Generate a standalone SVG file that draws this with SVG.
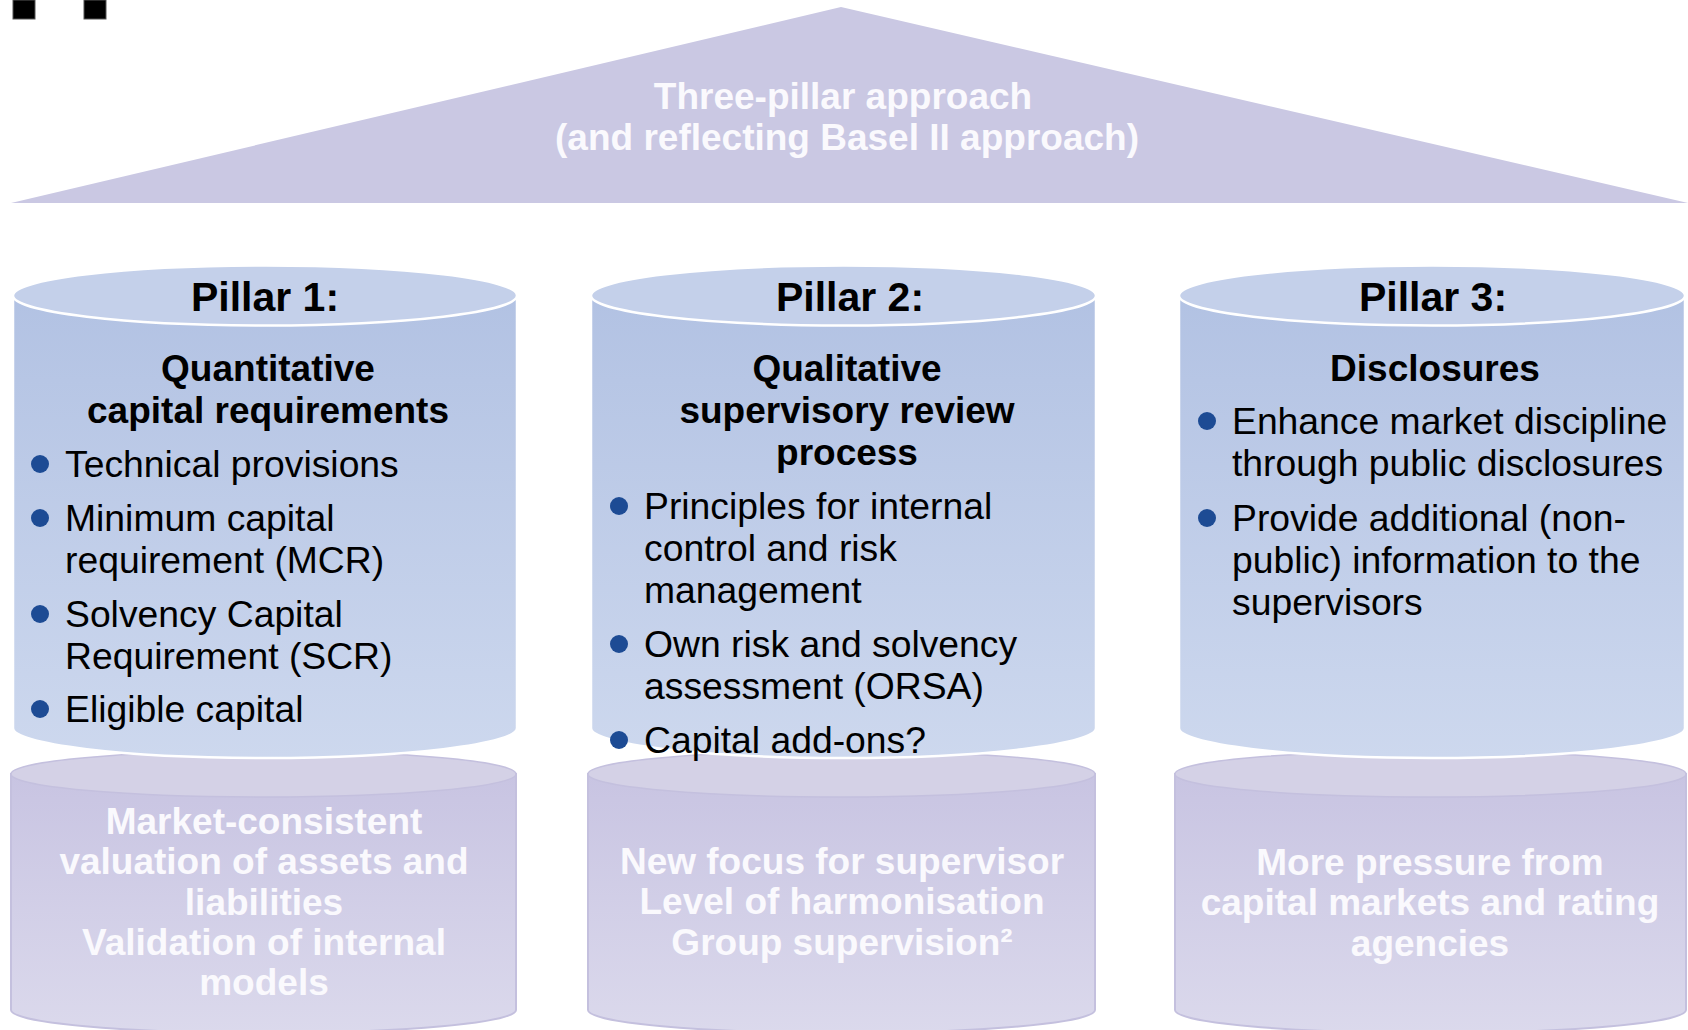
<svg xmlns="http://www.w3.org/2000/svg" width="1688" height="1030" viewBox="0 0 1688 1030">
<defs>
<linearGradient id="gUp" x1="0" y1="0" x2="0" y2="1">
<stop offset="0" stop-color="#B2C2E3"/>
<stop offset="1" stop-color="#CDD8EE"/>
</linearGradient>
<linearGradient id="gLow" x1="0" y1="0" x2="0" y2="1">
<stop offset="0" stop-color="#C8C4E2"/>
<stop offset="1" stop-color="#DBD9EC"/>
</linearGradient>
<style>
.upBody{fill:url(#gUp);stroke:#FFFFFF;stroke-width:2.5}
.upCap{fill:#C4D0EA;stroke:#FFFFFF;stroke-width:2.5}
.lowBody{fill:url(#gLow);stroke:#C4C0DE;stroke-width:2}
.lowCap{fill:#D4D1E6;stroke:#C4C0DE;stroke-width:1.5}
.roof{fill:#CAC8E3}
.t{font-family:"Liberation Sans",Arial,sans-serif}
.h1{font-size:41px;font-weight:bold;fill:#000;text-anchor:middle}
.h2{font-size:37px;font-weight:bold;fill:#000;text-anchor:middle}
.b{font-size:37.3px;fill:#000}
.w{font-size:37px;font-weight:bold;fill:#FAF9FD;text-anchor:middle}
.dot{fill:#1D4B94}
</style>
</defs>
<g id="marks">
<rect x="13" y="0" width="22" height="19" fill="#000" stroke="#555" stroke-width="1"/>
<rect x="84" y="0" width="22" height="19" fill="#000" stroke="#555" stroke-width="1"/>
</g>
<g id="roof">
<polygon class="roof" points="841,7 11,203 1688,203"/>
<text class="t w" x="843" y="109">Three-pillar approach</text>
<text class="t w" x="847" y="150">(and reflecting Basel II approach)</text>
</g>
<g id="connectors"></g>
<g id="base1">
<path class="lowBody" d="M11,774 L11,1010 A252.5,23 0 0 0 516,1010 L516,774 Z"/>
<ellipse class="lowCap" cx="263.5" cy="774" rx="252.5" ry="23"/>
<text class="t w" x="264" y="834">Market-consistent</text>
<text class="t w" x="264" y="874">valuation of assets and</text>
<text class="t w" x="264" y="915">liabilities</text>
<text class="t w" x="264" y="955">Validation of internal</text>
<text class="t w" x="264" y="995">models</text>
</g>
<g id="base2">
<path class="lowBody" d="M588,774 L588,1010 A253.5,23 0 0 0 1095,1010 L1095,774 Z"/>
<ellipse class="lowCap" cx="841.5" cy="774" rx="253.5" ry="23"/>
<text class="t w" x="842" y="874">New focus for supervisor</text>
<text class="t w" x="842" y="914">Level of harmonisation</text>
<text class="t w" x="842" y="955">Group supervision²</text>
</g>
<g id="base3">
<path class="lowBody" d="M1175,774 L1175,1010 A255.5,23 0 0 0 1686,1010 L1686,774 Z"/>
<ellipse class="lowCap" cx="1430.5" cy="774" rx="255.5" ry="23"/>
<text class="t w" x="1430" y="875">More pressure from</text>
<text class="t w" x="1430" y="915">capital markets and rating</text>
<text class="t w" x="1430" y="956">agencies</text>
</g>
<g id="pillar1">
<path class="upBody" d="M13,295.5 L13,728 A252,30 0 0 0 517,728 L517,295.5 Z"/>
<ellipse class="upCap" cx="265" cy="295.5" rx="252" ry="30"/>
<text class="t h1" x="265" y="311">Pillar 1:</text>
<text class="t h2" x="268" y="381">Quantitative</text>
<text class="t h2" x="268" y="423">capital requirements</text>
<circle class="dot" cx="40" cy="464" r="9"/>
<text class="t b" x="65" y="477">Technical provisions</text>
<circle class="dot" cx="40" cy="518" r="9"/>
<text class="t b" x="65" y="531">Minimum capital</text>
<text class="t b" x="65" y="573">requirement (MCR)</text>
<circle class="dot" cx="40" cy="614" r="9"/>
<text class="t b" x="65" y="627">Solvency Capital</text>
<text class="t b" x="65" y="669">Requirement (SCR)</text>
<circle class="dot" cx="40" cy="709" r="9"/>
<text class="t b" x="65" y="722">Eligible capital</text>
</g>
<g id="pillar2">
<path class="upBody" d="M591,295.5 L591,728 A252.5,30 0 0 0 1096,728 L1096,295.5 Z"/>
<ellipse class="upCap" cx="843.5" cy="295.5" rx="252.5" ry="30"/>
<text class="t h1" x="850" y="311">Pillar 2:</text>
<text class="t h2" x="847" y="381">Qualitative</text>
<text class="t h2" x="847" y="423">supervisory review</text>
<text class="t h2" x="847" y="465">process</text>
<circle class="dot" cx="619" cy="506" r="9"/>
<text class="t b" x="644" y="519">Principles for internal</text>
<text class="t b" x="644" y="561">control and risk</text>
<text class="t b" x="644" y="603">management</text>
<circle class="dot" cx="619" cy="644" r="9"/>
<text class="t b" x="644" y="657">Own risk and solvency</text>
<text class="t b" x="644" y="699">assessment (ORSA)</text>
<circle class="dot" cx="619" cy="740" r="9"/>
<text class="t b" x="644" y="753">Capital add-ons?</text>
</g>
<g id="pillar3">
<path class="upBody" d="M1179,295.5 L1179,728 A253,30 0 0 0 1685,728 L1685,295.5 Z"/>
<ellipse class="upCap" cx="1432" cy="295.5" rx="253" ry="30"/>
<text class="t h1" x="1433" y="311">Pillar 3:</text>
<text class="t h2" x="1435" y="381">Disclosures</text>
<circle class="dot" cx="1207" cy="421" r="9"/>
<text class="t b" x="1232" y="434">Enhance market discipline</text>
<text class="t b" x="1232" y="476">through public disclosures</text>
<circle class="dot" cx="1207" cy="518" r="9"/>
<text class="t b" x="1232" y="531">Provide additional (non-</text>
<text class="t b" x="1232" y="573">public) information to the</text>
<text class="t b" x="1232" y="615">supervisors</text>
</g>
</svg>
